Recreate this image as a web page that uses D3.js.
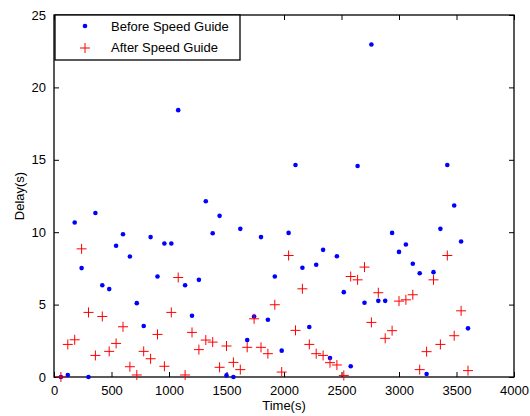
<!DOCTYPE html>
<html>
<head>
<meta charset="utf-8">
<script src="https://cdn.jsdelivr.net/npm/d3@7"></script>
<style>
  body { margin: 0; background: #fff; }
  svg text { font-family: "Liberation Sans", Arial, sans-serif; font-size: 13px; fill: #000; }
</style>
</head>
<body>
<div id="chart"></div>
<script>
(function() {

  // sample times (s), shared by both series
  var times = [60, 120, 180, 240, 300, 360, 420, 480, 540, 600,
               660, 720, 780, 840, 900, 960, 1020, 1080, 1140, 1200,
               1260, 1320, 1380, 1440, 1500, 1560, 1620, 1680, 1740, 1800,
               1860, 1920, 1980, 2040, 2100, 2160, 2220, 2280, 2340, 2400,
               2460, 2520, 2580, 2640, 2700, 2760, 2820, 2880, 2940, 3000,
               3060, 3120, 3180, 3240, 3300, 3360, 3420, 3480, 3540, 3600];

  var beforeDelay = [0, 0.14, 10.67, 7.52, 0, 11.33, 6.34, 6.07, 9.06, 9.86,
                     8.32, 5.10, 3.52, 9.66, 6.94, 9.22, 9.22, 18.43, 6.34, 4.23,
                     6.71, 12.14, 9.93, 11.13, 0.11, 0, 10.23, 2.55, 4.18, 9.66,
                     3.95, 6.94, 1.82, 9.95, 14.64, 7.54, 3.45, 7.75, 8.78, 1.31,
                     8.34, 5.86, 0.74, 14.57, 5.13, 22.96, 5.26, 5.26, 9.95, 8.64,
                     9.15, 7.82, 7.17, 0.21, 7.24, 10.23, 14.64, 11.84, 9.36, 3.36];

  var afterDelay = [0, 2.25, 2.57, 8.85, 4.46, 1.49, 4.18, 1.77, 2.32, 3.47,
                    0.71, 0.14, 1.77, 1.26, 2.94, 0.74, 4.46, 6.87, 0.14, 3.08,
                    1.89, 2.55, 2.41, 0.67, 2.14, 1.01, 0.51, 2.05, 4.02, 2.05,
                    1.61, 4.99, 0.34, 8.39, 3.22, 6.09, 2.25, 1.61, 1.49, 0.99,
                    0.83, 0.11, 6.94, 6.71, 7.59, 3.77, 5.82, 2.67, 3.20, 5.24,
                    5.33, 5.68, 0.51, 1.75, 6.71, 2.25, 8.39, 2.85, 4.57, 0.44];

  var xTicks = [0, 500, 1000, 1500, 2000, 2500, 3000, 3500, 4000],
      yTicks = [0, 5, 10, 15, 20, 25];

  var seriesNames = ["Before Speed Guide", "After Speed Guide"];

  var width = 530, height = 416,
      left = 54, right = 514, top = 15, bottom = 377;

  var x = d3.scaleLinear().domain([0, 4000]).range([left, right]),
      y = d3.scaleLinear().domain([0, 25]).range([bottom, top]);

  var svg = d3.select("#chart").append("svg")
      .attr("width", width)
      .attr("height", height);

  // axes with inward ticks, MATLAB style
  svg.append("g")
      .attr("transform", "translate(0," + bottom + ")")
      .call(d3.axisBottom(x).tickValues(xTicks).tickFormat(d3.format("d"))
        .tickSizeInner(-5).tickSizeOuter(0).tickPadding(9));
  svg.append("g")
      .attr("transform", "translate(0," + top + ")")
      .call(d3.axisTop(x).tickValues(xTicks).tickSizeInner(-5).tickSizeOuter(0).tickFormat(""));
  svg.append("g")
      .attr("transform", "translate(" + left + ",0)")
      .call(d3.axisLeft(y).tickValues(yTicks).tickFormat(d3.format("d"))
        .tickSizeInner(-5).tickSizeOuter(0).tickPadding(8));
  svg.append("g")
      .attr("transform", "translate(" + right + ",0)")
      .call(d3.axisRight(y).tickValues(yTicks).tickSizeInner(-5).tickSizeOuter(0).tickFormat(""));

  svg.selectAll(".domain").remove();
  svg.selectAll(".tick line").attr("stroke", "#000");
  svg.selectAll(".tick text")
      .attr("font-family", "Liberation Sans, Arial, sans-serif")
      .attr("font-size", 13);

  svg.append("rect")
      .attr("x", left)
      .attr("y", top)
      .attr("width", right - left)
      .attr("height", bottom - top)
      .attr("fill", "none")
      .attr("stroke", "#000")
      .attr("stroke-width", 1.3);

  svg.append("text")
      .attr("x", (left + right) / 2)
      .attr("y", 410)
      .attr("text-anchor", "middle")
      .text("Time(s)");

  svg.append("text")
      .attr("transform", "translate(24," + ((top + bottom) / 2) + ") rotate(-90)")
      .attr("text-anchor", "middle")
      .text("Delay(s)");

  // points
  svg.append("g").selectAll("circle")
      .data(beforeDelay)
    .enter().append("circle")
      .attr("cx", function(d, i) { return x(times[i]); })
      .attr("cy", function(d) { return y(d); })
      .attr("r", 2.3)
      .attr("fill", "#0000ff");

  var cross = "M-5,0H5M0,-5V5";

  svg.append("g").selectAll("path")
      .data(afterDelay)
    .enter().append("path")
      .attr("transform", function(d, i) { return "translate(" + x(times[i]) + "," + y(d) + ")"; })
      .attr("d", cross)
      .attr("fill", "none")
      .attr("stroke", "#ff0000")
      .attr("stroke-width", 1);

  // legend
  var legend = svg.append("g");
  legend.append("rect")
      .attr("x", 55)
      .attr("y", top)
      .attr("width", 185)
      .attr("height", 45)
      .attr("fill", "#fff")
      .attr("stroke", "#000")
      .attr("stroke-width", 1.3);

  legend.append("circle")
      .attr("cx", 85)
      .attr("cy", 26)
      .attr("r", 2.3)
      .attr("fill", "#0000ff");
  legend.append("path")
      .attr("transform", "translate(85,48)")
      .attr("d", cross)
      .attr("fill", "none")
      .attr("stroke", "#ff0000");

  legend.selectAll("text.lbl")
      .data(seriesNames)
    .enter().append("text")
      .attr("class", "lbl")
      .attr("x", 111)
      .attr("y", function(d, i) { return 31 + i * 21; })
      .attr("font-size", 13.5)
      .text(function(d) { return d; });

})();
</script>
</body>
</html>
